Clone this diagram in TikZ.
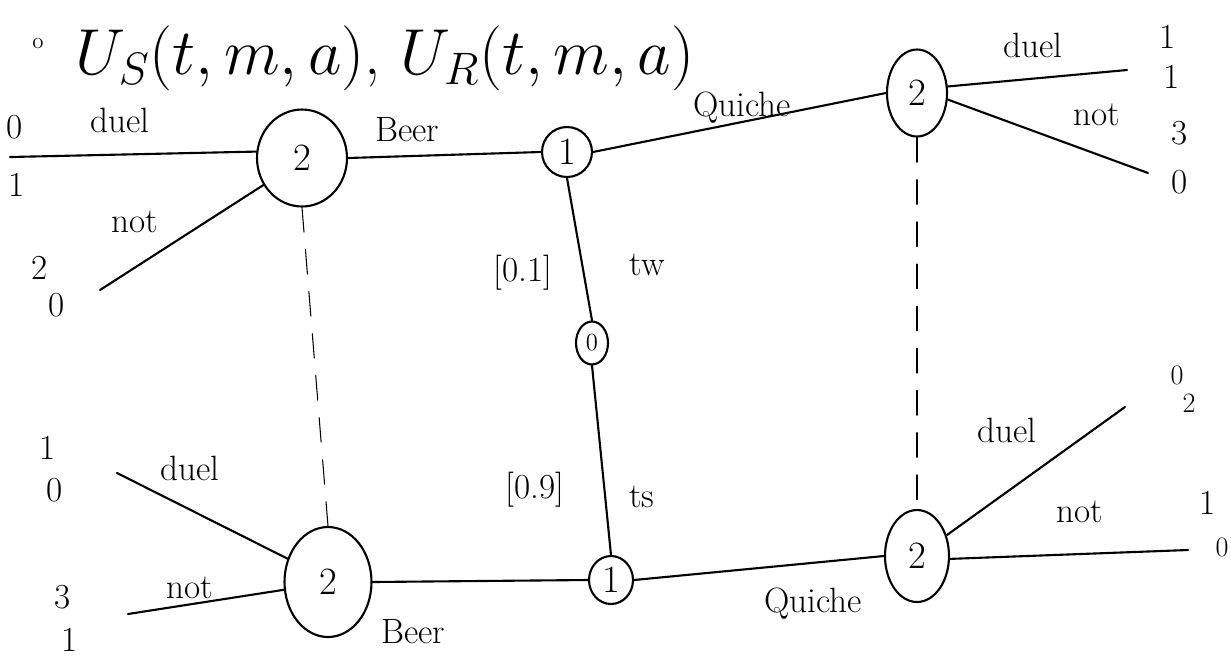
\RequirePackage{fix-cm}
\documentclass[tikz,border=0pt]{standalone}
\usetikzlibrary{shapes.geometric}
\begin{document}
\begin{tikzpicture}[x=0.02cm,y=-0.02cm, line width=1.2pt, line cap=round,
  gnode/.style={draw, ellipse, inner sep=0pt, font=\fontsize{22}{24}\selectfont},
  lbl/.style={font=\fontsize{20}{22}\selectfont, inner sep=1pt},
  pay/.style={font=\fontsize{20}{22}\selectfont, inner sep=0pt},
  info/.style={line width=0.6pt, dash pattern=on 14pt off 10pt}]
\useasboundingbox (0,0) rectangle (1231,664);

% title
\node[font=\fontsize{13}{15}\selectfont] (bul) at (38,44) {o};
\node[font=\fontsize{37}{40}\selectfont] (title) at (385,58) {$U_S(t,m,a)$, $U_R(t,m,a)$};

% decision nodes
\node[gnode, minimum width=1.8cm, minimum height=1.94cm] (A) at (302,158) {2};
\node[gnode, minimum width=1.0cm, minimum height=1.0cm] (B) at (567,152) {1};
\node[gnode, minimum width=1.2cm, minimum height=1.74cm] (C) at (917,93) {2};
\node[gnode, minimum width=0.64cm, minimum height=0.86cm, font=\fontsize{14}{16}\selectfont] (Z) at (592,343) {0};
\node[gnode, minimum width=0.88cm, minimum height=0.96cm] (D) at (611,580) {1};
\node[gnode, minimum width=1.74cm, minimum height=2.2cm] (E) at (328,582) {2};
\node[gnode, minimum width=1.28cm, minimum height=1.84cm] (F) at (917,556) {2};

% leaf ends
\coordinate (a1) at (10,157);
\coordinate (a2) at (100,290);
\coordinate (c1) at (1127,70);
\coordinate (c2) at (1148,173);
\coordinate (e1) at (117,473);
\coordinate (e2) at (128,614);
\coordinate (f1) at (1125,407);
\coordinate (f2) at (1188,550);

% edges
\draw (a1) -- (A.172);
\draw (a2) -- (A.215);
\draw (A.east) -- (B.west);
\draw (B.east) -- (C.west);
\draw (C.12) -- (c1);
\draw (C.-12) -- (c2);
\draw (B.south) -- (Z.north);
\draw (Z.south) -- (D.north);
\draw (e1) -- (E.150);
\draw (e2) -- (E.190);
\draw (E.east) -- (D.west);
\draw (D.east) -- (F.west);
\draw (F.35) -- (f1);
\draw (F.-5) -- (f2);

% information sets
\draw[info] (A.south) -- (E.north);
\draw[info] (C.south) -- (F.north);

% edge labels
\node[lbl] (la1) at (120,120) {duel};
\node[lbl] (la2) at (135,222) {not};
\node[lbl] (lbeer1) at (407,130) {Beer};
\node[lbl] (lq1) at (742,108) {Quiche};
\node[lbl] (lc1) at (1033,45) {duel};
\node[lbl] (lc2) at (1097,115) {not};
\node[lbl] (ptw) at (523,273) {[0.1]};
\node[lbl] (ltw) at (647,265) {tw};
\node[lbl] (pts) at (535,490) {[0.9]};
\node[lbl] (lts) at (642,497) {ts};
\node[lbl] (le1) at (190,468) {duel};
\node[lbl] (le2) at (190,588) {not};
\node[lbl] (lbeer2) at (413,632) {Beer};
\node[lbl] (lq2) at (813,604) {Quiche};
\node[lbl] (lf1) at (1007,430) {duel};
\node[lbl] (lf2) at (1080,512) {not};

% payoffs
\node[pay] (pa1s) at (15,127) {0};
\node[pay] (pa1r) at (17,185) {1};
\node[pay] (pa2s) at (40,268) {2};
\node[pay] (pa2r) at (57,305) {0};
\node[pay] (pc1s) at (1168,37) {1};
\node[pay] (pc1r) at (1172,77) {1};
\node[pay] (pc2s) at (1180,133) {3};
\node[pay] (pc2r) at (1180,182) {0};
\node[pay] (pe1s) at (48,448) {1};
\node[pay] (pe1r) at (55,490) {0};
\node[pay] (pe2s) at (63,597) {3};
\node[pay] (pe2r) at (70,640) {1};
\node[pay, font=\fontsize{16}{18}\selectfont] (pf1s) at (1177,375) {0};
\node[pay, font=\fontsize{16}{18}\selectfont] (pf1r) at (1189,403) {2};
\node[pay] (pf2s) at (1208,503) {1};
\node[pay, font=\fontsize{16}{18}\selectfont] (pf2r) at (1222,547) {0};
\end{tikzpicture}
\end{document}
